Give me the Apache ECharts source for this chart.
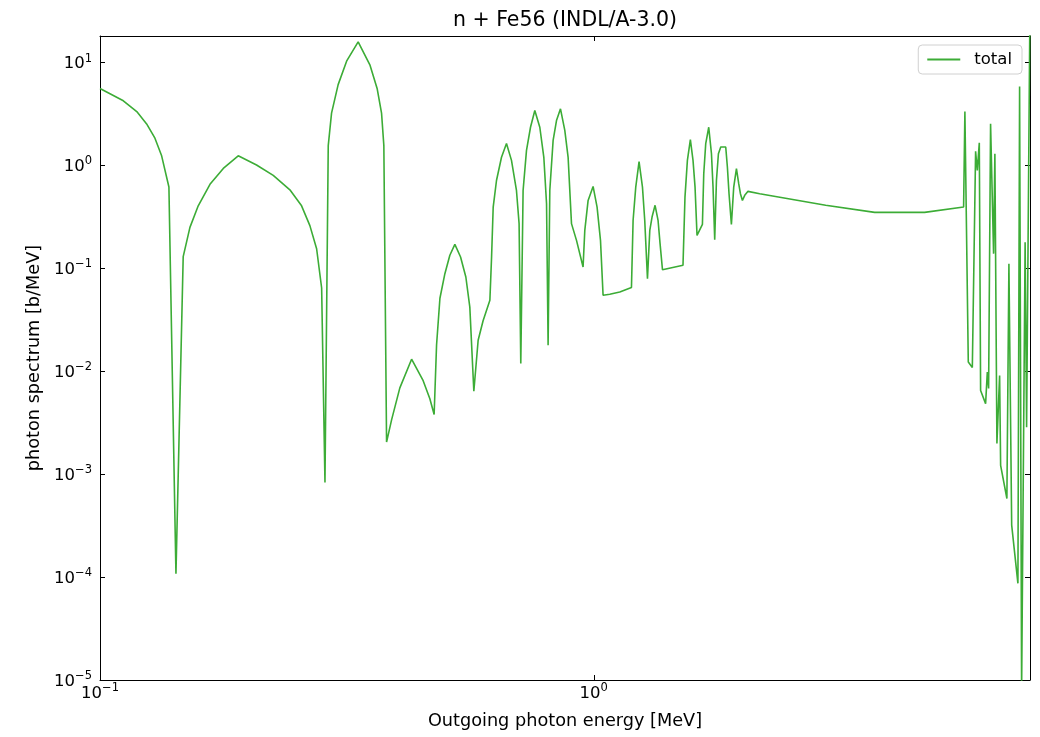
<!DOCTYPE html>
<html>
<head>
<meta charset="utf-8">
<script src="https://cdn.jsdelivr.net/npm/echarts@6/dist/echarts.min.js"></script>
<style>
html,body{margin:0;padding:0;background:#fff;}
#chart{width:1040px;height:737px;}
</style>
</head>
<body>
<div id="chart"></div>
<script>
const chartTitle = 'n + Fe56 (INDL/A-3.0)';
const xAxisName = 'Outgoing photon energy [MeV]';
const yAxisName = 'photon spectrum [b/MeV]';
const seriesName = 'total';

// Outgoing photon energy [MeV]
const energy = [
  0.1, 0.1115, 0.1187, 0.1243, 0.1292, 0.1333, 0.1379, 0.1425, 0.1474, 0.1521,
  0.1581, 0.167, 0.1777, 0.1905, 0.2075, 0.2243, 0.2424, 0.256, 0.2661, 0.2746,
  0.2811, 0.2855, 0.2899, 0.2944, 0.3036, 0.3158, 0.3333, 0.352, 0.3641, 0.3717,
  0.3757, 0.3805, 0.3895, 0.4048, 0.4276, 0.4513, 0.4656, 0.475, 0.4804, 0.488,
  0.4994, 0.5111, 0.5232, 0.5373, 0.5507, 0.561, 0.5716, 0.5832, 0.5968, 0.616,
  0.6209, 0.6256, 0.6353, 0.6503, 0.6656, 0.6813, 0.6973, 0.7059, 0.7115, 0.7192,
  0.7307, 0.7445, 0.7596, 0.7775, 0.7922, 0.8023, 0.8082, 0.8146, 0.8273, 0.8404,
  0.8562, 0.8736, 0.8872, 0.9013, 0.9226, 0.9513, 0.959, 0.9739, 0.9968, 1.0155,
  1.0318, 1.0443, 1.0775, 1.1289, 1.1921, 1.2012, 1.2162, 1.2351, 1.2549, 1.2683,
  1.2845, 1.2985, 1.3122, 1.3308, 1.3496, 1.3622, 1.3776, 1.516, 1.53, 1.5474,
  1.569, 1.5885, 1.6036, 1.6184, 1.6596, 1.67, 1.6855, 1.7093, 1.7311, 1.7439,
  1.7576, 1.7718, 1.7882, 1.8077, 1.8502, 1.8647, 1.8789, 1.8998, 1.9205, 1.945,
  1.9657, 1.9815, 2.0, 2.0217, 2.0527, 2.168, 2.949, 3.706, 4.677, 5.61,
  5.644, 5.734, 5.843, 5.933, 5.98, 6.036, 6.073, 6.216, 6.266, 6.304,
  6.362, 6.452, 6.491, 6.553, 6.636, 6.667, 6.865, 6.93, 7.02, 7.227,
  7.284, 7.353, 7.474, 7.526, 7.64
];

// photon spectrum [b/MeV]
const spectrum = [
  5.6, 4.25, 3.34, 2.53, 1.84, 1.24, 0.617, 1.08e-4, 0.13, 0.25,
  0.405, 0.655, 0.935, 1.24, 1.01, 0.80, 0.58, 0.405, 0.26, 0.155,
  0.0644, 8.3e-4, 1.56, 3.22, 6.1, 10.3, 15.9, 9.5, 5.6, 3.22,
  1.56, 2.05e-3, 3.37e-3, 6.9e-3, 0.0131, 8.1e-3, 5.4e-3, 3.8e-3, 0.018, 0.0512,
  0.0887, 0.134, 0.171, 0.129, 0.0824, 0.042, 6.4e-3, 0.02, 0.031, 0.049,
  0.129, 0.394, 0.714, 1.2, 1.63, 1.12, 0.571, 0.272, 0.0119, 0.571,
  1.4, 2.35, 3.42, 2.35, 1.2, 0.425, 0.0179, 0.571, 1.75, 2.73,
  3.55, 2.19, 1.2, 0.272, 0.187, 0.103, 0.234, 0.457, 0.625, 0.394,
  0.187, 0.0547, 0.056, 0.0589, 0.065, 0.292, 0.615, 1.09, 0.615, 0.292,
  0.0794, 0.234, 0.315, 0.41, 0.292, 0.174, 0.097, 0.107, 0.492, 1.12,
  1.78, 1.12, 0.615, 0.209, 0.267, 0.83, 1.63, 2.35, 1.3, 0.615,
  0.19, 0.714, 1.3, 1.51, 1.51, 0.96, 0.531, 0.267, 0.615, 0.93,
  0.664, 0.531, 0.457, 0.512, 0.56, 0.531, 0.41, 0.35, 0.35, 0.394,
  3.34, 0.0123, 0.0109, 1.37, 0.893, 1.66, 6.5e-3, 4.85e-3, 9.8e-3, 6.8e-3,
  2.54, 0.139, 1.3, 1.99e-3, 9.1e-3, 1.22e-3, 5.8e-4, 0.111, 3.2e-4, 8.7e-5,
  5.85, 8e-6, 0.179, 2.86e-3, 25
];

const xMin = 0.1, xMax = 7.646;
const yMin = 1e-5, yMax = 18.1;

function decadeLabel(v) {
  const e = Math.round(Math.log10(v));
  if (Math.abs(Math.log10(v) - e) > 1e-6) return '';
  const ex = String(e).replace('-', '\u2212');
  return '{b|10}{s|' + ex + '}';
}

const FONT = 'DejaVu Sans';
const labelRich = {
  b: {fontFamily: FONT, fontSize: 16.5, color: '#000', lineHeight: 20, verticalAlign: 'bottom'},
  s: {fontFamily: FONT, fontSize: 11.5, color: '#000', lineHeight: 12, verticalAlign: 'top'}
};
const data = energy.map((x, i) => [x, spectrum[i]]);

const tickCommon = {show: true, inside: true, length: 5, lineStyle: {color: '#000', width: 1}};
const lineCommon = {show: true, onZero: false, lineStyle: {color: '#000', width: 1}};

const chart = echarts.init(document.getElementById('chart'), null, {renderer: 'canvas'});
chart.setOption({
  animation: false,
  backgroundColor: '#fff',
  title: {
    text: chartTitle,
    left: 560, top: 5, textAlign: 'center',
    textStyle: {fontFamily: FONT, fontSize: 20.5, fontWeight: 'normal', color: '#000'}
  },
  legend: {
    show: true,
    right: 18, top: 45,
    data: [{name: seriesName, icon: 'rect'}],
    itemWidth: 33, itemHeight: 2,
    padding: [6, 10, 6, 9],
    backgroundColor: 'rgba(255,255,255,0.8)',
    borderColor: '#d0d0d0', borderWidth: 1, borderRadius: 4,
    textStyle: {fontFamily: FONT, fontSize: 16.5, color: '#000', padding: [0, 0, 0, 9]}
  },
  grid: {left: 100, right: 10, top: 36, bottom: 57, containLabel: false},
  xAxis: [{
    type: 'log', logBase: 10, min: xMin, max: xMax,
    position: 'bottom',
    name: xAxisName, nameLocation: 'middle', nameGap: 32,
    nameTextStyle: {fontFamily: FONT, fontSize: 17.7, color: '#000'},
    axisLine: lineCommon, axisTick: tickCommon,
    axisLabel: {show: true, margin: 2, formatter: decadeLabel, rich: labelRich, showMinLabel: true, showMaxLabel: true},
    splitLine: {show: false}, minorTick: {show: false}
  }, {
    type: 'log', logBase: 10, min: xMin, max: xMax,
    position: 'top',
    axisLine: lineCommon, axisTick: tickCommon,
    axisLabel: {show: false}, splitLine: {show: false}
  }],
  yAxis: [{
    type: 'log', logBase: 10, min: yMin, max: yMax,
    position: 'left',
    name: yAxisName, nameLocation: 'middle', nameGap: 56, nameRotate: 90,
    nameTextStyle: {fontFamily: FONT, fontSize: 17.7, color: '#000'},
    axisLine: lineCommon, axisTick: tickCommon,
    axisLabel: {show: true, margin: 8, formatter: decadeLabel, rich: labelRich},
    splitLine: {show: false}, minorTick: {show: false}
  }, {
    type: 'log', logBase: 10, min: yMin, max: yMax,
    position: 'right',
    axisLine: lineCommon, axisTick: tickCommon,
    axisLabel: {show: false}, splitLine: {show: false}
  }],
  series: [{
    name: seriesName,
    type: 'line',
    xAxisIndex: 0, yAxisIndex: 0,
    data: data,
    symbol: 'none', showSymbol: false,
    clip: true,
    lineStyle: {color: '#3cac36', width: 1.6},
    itemStyle: {color: '#3cac36'}
  }]
});
</script>
</body>
</html>
